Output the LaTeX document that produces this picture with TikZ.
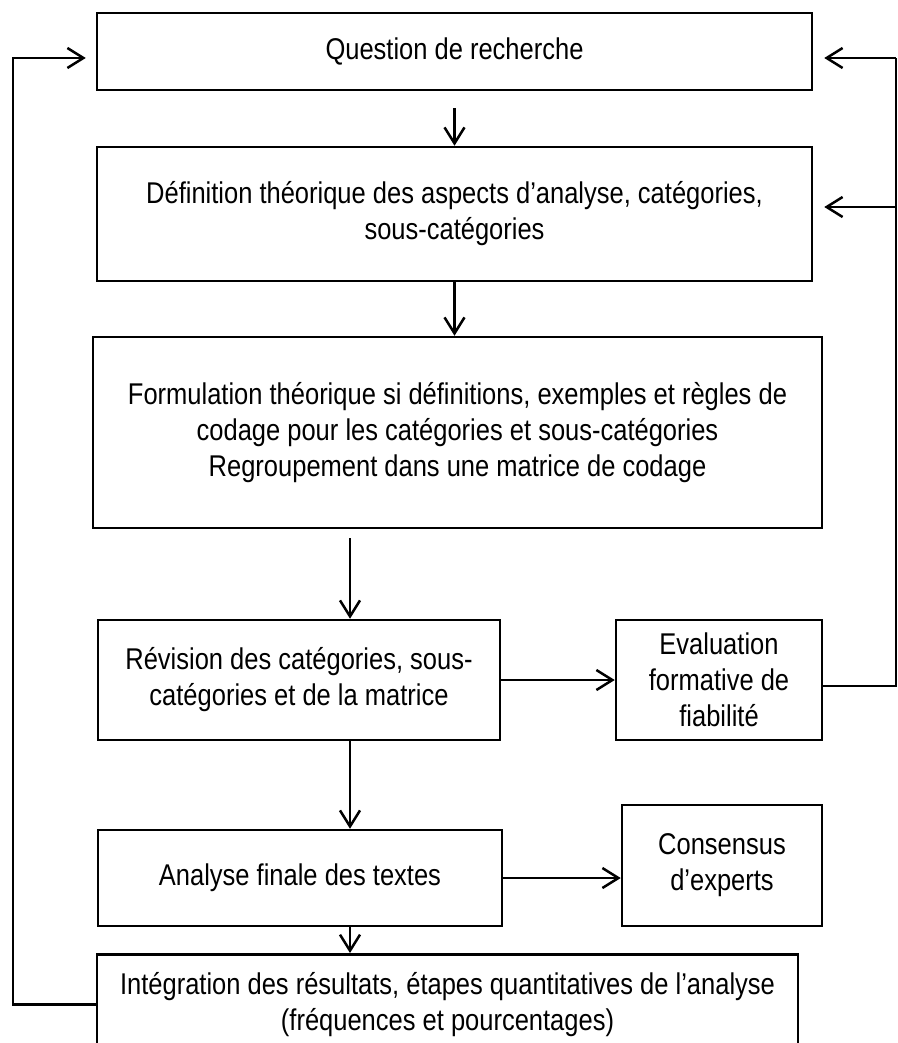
\documentclass[tikz,border=0pt]{standalone}
\usepackage{fontspec}
\setmainfont{Liberation Sans}[FakeStretch=0.85]
\usetikzlibrary{arrows.meta}

\begin{document}
\begin{tikzpicture}[x=1pt,y=-1pt,
	box/.style={draw,line width=2.5pt,inner sep=0pt,align=center,font=\fontsize{30}{36}\selectfont},
	arr/.style={line width=2.5pt,-{Straight Barb[length=16pt,width=20pt]}}]
	\useasboundingbox (0,0) rectangle (897,1043);
	\node[box,minimum width=715,minimum height=77] (q) at (454.5,51.5) {Question de recherche};
	\node[box,minimum width=715,minimum height=134] (def) at (454.5,214) {D\'efinition th\'eorique des aspects d’analyse, cat\'egories,\\ sous-cat\'egories};
	\node[box,minimum width=729,minimum height=191] (form) at (457.5,432.5) {Formulation th\'eorique si d\'efinitions, exemples et r\`egles de\\ codage pour les cat\'egories et sous-cat\'egories\\ Regroupement dans une matrice de codage};
	\node[box,minimum width=402,minimum height=120] (rev) at (299,680) {R\'evision des cat\'egories, sous-\\ cat\'egories et de la matrice};
	\node[box,minimum width=206,minimum height=120] (eval) at (719,680) {Evaluation\\ formative de\\ fiabilit\'e};
	\node[box,minimum width=404,minimum height=96] (ana) at (300,878) {Analyse finale des textes};
	\node[box,minimum width=200,minimum height=121] (cons) at (722,865.5) {Consensus\\ d’experts};
	\node[box,minimum width=701,minimum height=100,anchor=north] (integ) at (447.5,953) {Int\'egration des r\'esultats, \'etapes quantitatives de l’analyse\\ (fr\'equences et pourcentages)};
	\coordinate (cx) at (350,0);
	\coordinate (lx) at (13,58);
	\coordinate (rx) at (896,58);
	\coordinate (ry) at (896,207);
	\draw[arr,shorten <=17pt] (q.south) -- (def.north);
	\draw[arr] (def.south) -- (def.south |- form.north);
	\draw[arr,shorten <=9pt] (form.south -| cx) -- (rev.north -| cx);
	\draw[arr] (rev.south -| cx) -- (ana.north -| cx);
	\draw[arr] (ana.south -| cx) -- (integ.north -| cx);
	\draw[arr] (rev.east) -- (eval.west);
	\draw[arr] (ana.east) -- (cons.west |- ana.east);
	\draw[arr,shorten >=10pt] (integ.west) -| (lx) -- (q.west |- lx);
	\draw[line width=2.5pt] ([yshift=-6pt]eval.east) -| (rx);
	\draw[arr,shorten >=11pt] (rx) -- (q.east |- rx);
	\draw[arr,shorten >=11pt] (ry) -- (def.east |- ry);
\end{tikzpicture}
\end{document}
